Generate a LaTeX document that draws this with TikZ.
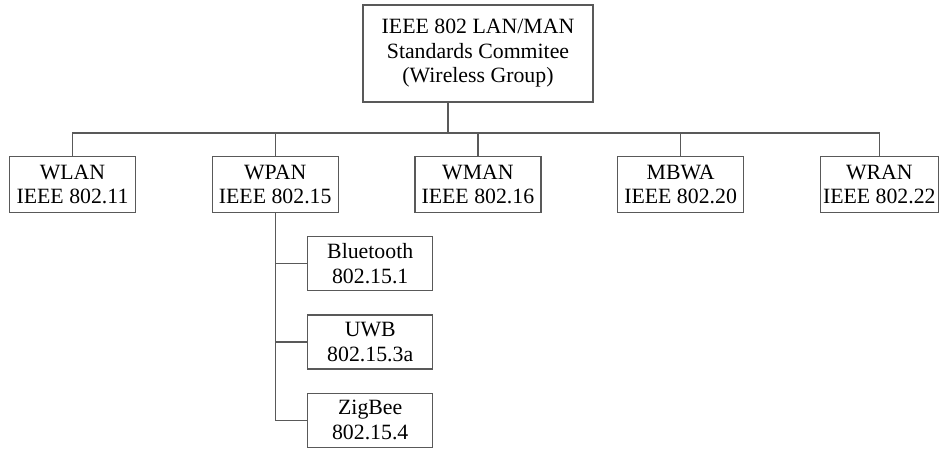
\documentclass[tikz,border=0pt]{standalone}
\usepackage{fontspec}
\setmainfont{Liberation Serif}
\usetikzlibrary{positioning, calc}
\tikzset{
    box/.style={rectangle, draw=black!65, line width=1.2pt, fill=white, minimum width=126pt, minimum height=56pt, inner sep=2pt, align=center, font=\fontsize{21.8}{24.5}\selectfont},
    topbox/.style={box, minimum width=230pt, minimum height=97pt},
    subbox/.style={box, minimum width=125pt, minimum height=54pt},
    link/.style={draw=black!65, line width=1.2pt}
}
\begin{document}
\begin{tikzpicture}[x=1pt, y=1pt, node distance=23pt and 75.5pt]
        \useasboundingbox (0,0) rectangle (940,-452);
        % committee
        \node[topbox] (committee) at (478,-53.5) {IEEE 802 LAN/MAN\\Standards Commitee\\(Wireless Group)};
        % working groups
        \node[box] (wlan) at (72.5,-184.5) {WLAN\\IEEE 802.11};
        \node[box, right=of wlan] (wpan) {WPAN\\IEEE 802.15};
        \node[box, right=of wpan] (wman) {WMAN\\IEEE 802.16};
        \node[box, right=of wman] (mbwa) {MBWA\\IEEE 802.20};
        \node[box, right=of mbwa, minimum width=118pt] (wran) {WRAN\\IEEE 802.22};
        % WPAN task groups
        \node[subbox, below=23pt of wpan, xshift=95pt] (bluetooth) {Bluetooth\\802.15.1};
        \node[subbox, below=of bluetooth] (uwb) {UWB\\802.15.3a};
        \node[subbox, below=of uwb] (zigbee) {ZigBee\\802.15.4};
        \coordinate (bus) at (448,-133);
        \draw[link] (committee.south -| bus) -- (bus);
        \draw[link] (wlan.north) -- (wlan.north |- bus) -- (wran.north |- bus) -- (wran.north);
        \foreach \wg in {wpan, wman, mbwa}
            \draw[link] (\wg.north) -- (\wg.north |- bus);
        \draw[link] (wpan.south) |- (zigbee.west);
        \foreach \tg in {bluetooth, uwb}
            \draw[link] (\tg.west) -- (\tg.west -| wpan.south);
    \end{tikzpicture}
\end{document}
